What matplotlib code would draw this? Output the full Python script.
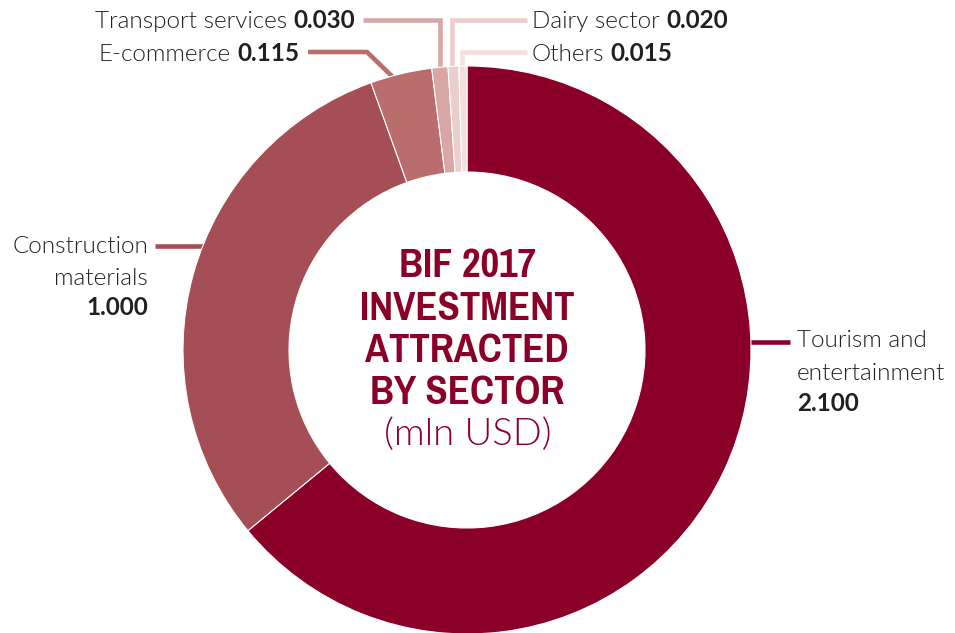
import matplotlib
matplotlib.use("Agg")
import matplotlib.pyplot as plt
from matplotlib import font_manager as fm
from matplotlib.font_manager import FontProperties
from matplotlib.textpath import TextToPath

# ---- data ----
sectors = ["Tourism and entertainment", "Construction materials", "E-commerce",
           "Transport services", "Dairy sector", "Others"]
values = [2.100, 1.000, 0.115, 0.030, 0.020, 0.015]
value_labels = ["2.100", "1.000", "0.115", "0.030", "0.020", "0.015"]
colors = ["#8B0029", "#A64E55", "#B96D6D", "#D8A6A5", "#EBCDCC", "#F3DFDE"]
title_lines = ["BIF 2017", "INVESTMENT", "ATTRACTED", "BY SECTOR"]
subtitle = "(mln USD)"

names = {f.name for f in fm.fontManager.ttflist}
LABEL_FONT = "Lato" if "Lato" in names else "DejaVu Sans"
LIGHT = 300 if LABEL_FONT == "Lato" else "normal"

# pick a condensed bold font file for the centre title
def pick_title_font():
    cands = []
    for f in fm.fontManager.ttflist:
        fn = f.fname.lower()
        w = f.weight if isinstance(f.weight, int) else 700 if "bold" in str(f.weight) else 400
        cond = ("condensed" in fn or "narrow" in fn or
                str(f.stretch) in ("condensed", "semi-condensed", "extra-condensed") or
                (isinstance(f.stretch, int) and f.stretch < 500))
        if cond and (w >= 600 or "bold" in fn) and "italic" not in fn and "oblique" not in fn:
            cands.append(f)
    pref = ["narrow", "opensans", "open sans", "notosans-condensedbold", "roboto",
            "notosans", "dejavusanscondensed-bold"]
    def rank(f):
        fn = f.fname.lower().replace("_", "")
        for i, p in enumerate(pref):
            if p.replace(" ", "") in fn:
                return (i, "semi" in fn or "extra" in fn, fn)
        return (len(pref), False, fn)
    if cands:
        cands.sort(key=rank)
        return FontProperties(fname=cands[0].fname)
    return FontProperties(family=LABEL_FONT, weight="bold")

title_fp = pick_title_font()
# fit title size: "INVESTMENT" ~215 px wide, caps ~32 px high
ttp = TextToPath()
def px_size(fp, s, size_pt):
    fp2 = fp.copy(); fp2.set_size(size_pt)
    w, h, d = ttp.get_text_width_height_descent(s, fp2, ismath=False)
    return w * 100 / 72.0
w_at_10 = px_size(title_fp, "INVESTMENT", 10)
title_size = min(10 * 215.0 / w_at_10, 32.0)
title_fp.set_size(title_size)

TXT = "#231F20"
W, H = 955, 633
fig = plt.figure(figsize=(9.55, 6.33), dpi=100)
ax = fig.add_axes([0, 0, 1, 1])

def Y(y):
    return H - y

cx, cy, R, r = 467, Y(350), 284, 178
wedges, _ = ax.pie(values, colors=colors, startangle=90, counterclock=False,
                   center=(cx, cy), radius=R,
                   wedgeprops=dict(width=R - r, edgecolor="white", linewidth=0.8))
ax.set_xlim(0, W)
ax.set_ylim(0, H)
ax.set_aspect("equal")
ax.axis("off")

LW = 3.3
def leader(pts, color):
    xs = [p[0] for p in pts]
    ys = [Y(p[1]) for p in pts]
    ax.plot(xs, ys, color=color, lw=LW, solid_capstyle="butt",
            solid_joinstyle="miter", zorder=0.5)

FS = 17.5
def label_right_num(x_right, y_base, name, num):
    t = ax.text(x_right, Y(y_base), num, ha="right", va="baseline",
                fontsize=FS, fontweight="bold", family=LABEL_FONT, color=TXT)
    ax.annotate(name, xy=(0, 0), xycoords=t, xytext=(-4.5, 0),
                textcoords="offset points", ha="right", va="bottom",
                fontsize=FS, fontweight=LIGHT, family=LABEL_FONT, color=TXT)

def label_left_name(x_left, y_base, name, num):
    t = ax.text(x_left, Y(y_base), name, ha="left", va="baseline",
                fontsize=FS, fontweight=LIGHT, family=LABEL_FONT, color=TXT)
    ax.annotate(num, xy=(1, 0), xycoords=t, xytext=(4.5, 0),
                textcoords="offset points", ha="left", va="bottom",
                fontsize=FS, fontweight="bold", family=LABEL_FONT, color=TXT)

def plain(x, yb, s, ha, bold=False):
    ax.text(x, Y(yb), s, ha=ha, va="baseline", fontsize=FS,
            fontweight="bold" if bold else LIGHT, family=LABEL_FONT, color=TXT)

# Tourism
leader([(745, 342), (790, 342)], colors[0])
plain(797, 347, "Tourism and", "left")
plain(797, 380, "entertainment", "left")
plain(797, 411, value_labels[0], "left", bold=True)

# Construction
leader([(155, 246), (212, 246)], colors[1])
plain(148, 253, "Construction", "right")
plain(148, 285, "materials", "right")
plain(148, 315, value_labels[1], "right", bold=True)

# E-commerce
leader([(308, 52), (367, 52), (398, 82)], colors[2])
label_right_num(299, 61, sectors[2], value_labels[2])

# Transport
leader([(363, 20), (440, 20), (440, 75)], colors[3])
label_right_num(355, 28, sectors[3], value_labels[3])

# Dairy
leader([(527, 20), (452, 20), (452, 75)], colors[4])
label_left_name(532, 28, sectors[4], value_labels[4])

# Others
leader([(527, 52), (462, 52), (462, 75)], colors[5])
label_left_name(532, 61, sectors[5], value_labels[5])

# Centre title
TC = "#8B0029"
for line, yb in zip(title_lines, [277, 320, 362, 404]):
    ax.text(cx, Y(yb), line, ha="center", va="baseline",
            fontproperties=title_fp, color=TC)
ax.text(cx + 1, Y(445), subtitle, ha="center", va="baseline", fontsize=27.5,
        fontweight=LIGHT, family=LABEL_FONT, color=TC)

fig.savefig("out.png", dpi=100, facecolor="white")
